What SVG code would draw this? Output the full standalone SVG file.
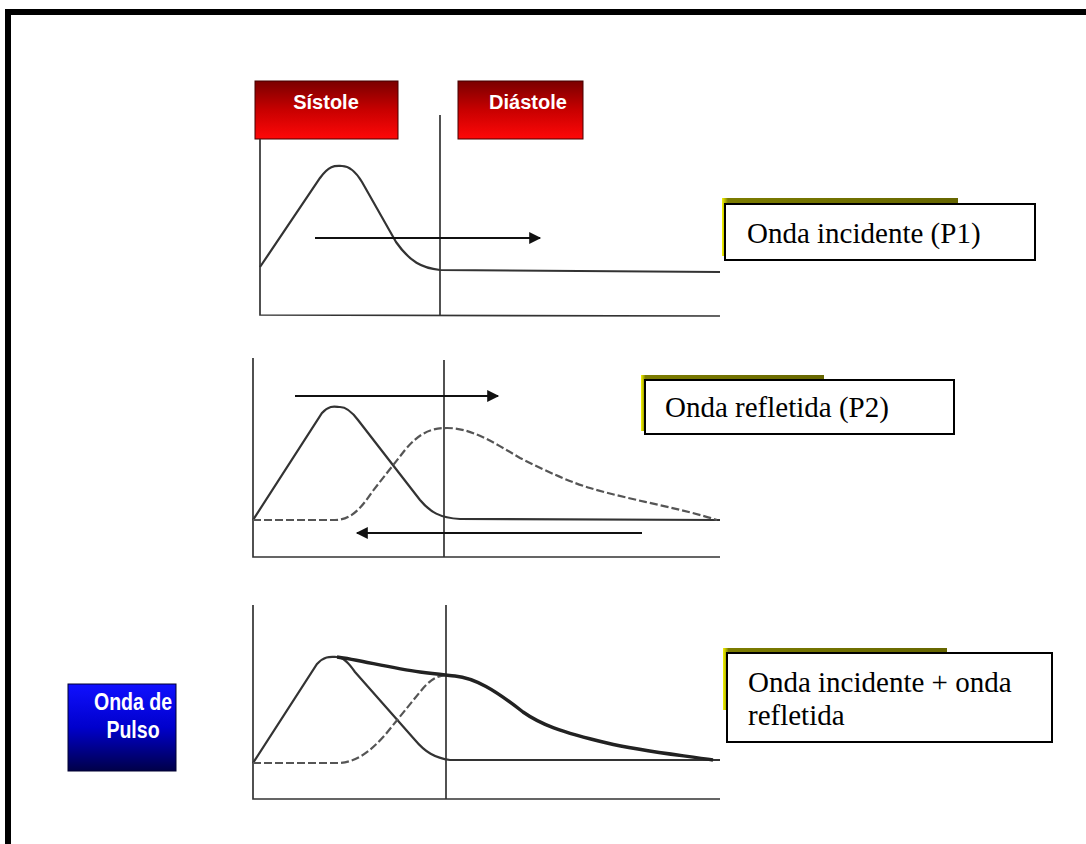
<svg xmlns="http://www.w3.org/2000/svg" width="1086" height="844" viewBox="0 0 1086 844">
<defs>
<linearGradient id="red" x1="0" y1="0" x2="0" y2="1">
<stop offset="0" stop-color="#7a0000"/>
<stop offset="0.5" stop-color="#c80000"/>
<stop offset="1" stop-color="#ff0808"/>
</linearGradient>
<linearGradient id="blue" x1="0" y1="0" x2="0" y2="1">
<stop offset="0" stop-color="#1010ff"/>
<stop offset="0.5" stop-color="#0000cc"/>
<stop offset="1" stop-color="#000048"/>
</linearGradient>
<linearGradient id="olive" x1="0" y1="0" x2="1" y2="0">
<stop offset="0" stop-color="#f4f400"/>
<stop offset="0.025" stop-color="#7c7c00"/>
<stop offset="1" stop-color="#666600"/>
</linearGradient>
<marker id="ah" viewBox="0 0 10 10" refX="9" refY="5" markerWidth="13" markerHeight="12" markerUnits="userSpaceOnUse" orient="auto">
<path d="M0,0 L10,5 L0,10 z" fill="#111"/>
</marker>
</defs>
<style>
.ax{fill:none;stroke:#333;stroke-width:1.7}
.cv{fill:none;stroke:#333;stroke-width:2.2}
.dash{fill:none;stroke:#555;stroke-width:2.2;stroke-dasharray:8 3}
.thick{fill:none;stroke:#222;stroke-width:3.4}
.arr{fill:none;stroke:#111;stroke-width:1.9;marker-end:url(#ah)}
.hdr{font-family:"Liberation Sans",Arial,sans-serif;font-weight:bold;fill:#fff}
.lbl{font-family:"Liberation Serif","Times New Roman",serif;font-size:29px;fill:#000}
.sh{fill:url(#olive)}
.wb{fill:#fff;stroke:#000;stroke-width:2}
</style>
<rect width="1086" height="844" fill="#fff"/>
<g id="frame">
<rect x="5" y="9" width="1081" height="6" fill="#000"/>
<rect x="5" y="9" width="6" height="835" fill="#000"/>
</g>

<g id="sistole">
<rect x="255" y="81" width="143" height="58" fill="url(#red)" stroke="#400" stroke-width="1"/>
<text class="hdr" x="326" y="109" font-size="20" text-anchor="middle">Sístole</text>
</g>
<g id="diastole">
<rect x="458" y="81" width="125" height="58" fill="url(#red)" stroke="#400" stroke-width="1"/>
<text class="hdr" x="528" y="109" font-size="20" text-anchor="middle">Diástole</text>
</g>
<g id="onda-pulso">
<rect x="68" y="684" width="108" height="87" fill="url(#blue)" stroke="#000030" stroke-width="1"/>
<text class="hdr" transform="translate(133,710) scale(0.85,1)" font-size="23" text-anchor="middle">Onda de</text>
<text class="hdr" transform="translate(133,738) scale(0.85,1)" font-size="23" text-anchor="middle">Pulso</text>
</g>

<g id="chart1">
<path class="ax" d="M260,139 L260,315 L720,316"/>
<path class="ax" d="M440,115 L440,315"/>
<path class="cv" d="M260,267 L320,178 C330,164 336,166 342,166 C350,166 356,172 362,182 L396,242 C410,262 422,268 440,270 L720,272"/>
</g>
<g id="chart2">
<path class="ax" d="M253,358 L253,557 L720,557"/>
<path class="ax" d="M444,360 L444,557"/>
<path class="cv" d="M253,520 L322,413 C330,404 336,407 340,407 C346,407 352,412 358,420 L420,500 C430,512 440,518 460,519 L720,520"/>
<path class="dash" d="M253,520 L335,520 C350,520 360,510 372,492 L405,450 C420,432 432,428 447,428 C470,428 490,440 520,458 C550,473 570,482 590,488 C630,500 680,508 717,520"/>
</g>
<g id="chart3">
<path class="ax" d="M253,605 L253,799 L720,799"/>
<path class="ax" d="M446,605 L446,799"/>
<path class="cv" d="M253,763 L317,664 C325,655 332,657 337,657 C343,657 348,662 355,672 L415,740 C425,752 435,758 450,760 L720,760"/>
<path class="dash" d="M253,763 L337,763 C355,763 370,752 385,735 L420,692 C428,682 435,676 446,675"/>
<path class="thick" d="M337,657 C360,660 390,668 420,672 C435,674 446,675 455,676 C475,678 495,690 523,712 C540,724 560,732 607,743 C640,751 680,755 713,760"/>
</g>

<g id="connectors">
<path class="arr" d="M315,238 L540,238"/>
<path class="arr" d="M295,396 L498,396"/>
<path class="arr" d="M642,533 L357,533"/>
</g>

<g id="label-p1">
<rect class="sh" x="722" y="198" width="236" height="58"/>
<rect class="wb" x="725" y="204" width="310" height="56"/>
<text class="lbl" x="747" y="243">Onda incidente (P1)</text>
</g>
<g id="label-p2">
<rect class="sh" x="641" y="375" width="183" height="56"/>
<rect class="wb" x="645" y="380" width="309" height="54"/>
<text class="lbl" x="665" y="417">Onda refletida (P2)</text>
</g>
<g id="label-sum">
<rect class="sh" x="723" y="648" width="224" height="62"/>
<rect class="wb" x="727" y="653" width="325" height="89"/>
<text class="lbl" x="748" y="692">Onda incidente + onda</text>
<text class="lbl" x="748" y="725">refletida</text>
</g>
</svg>
